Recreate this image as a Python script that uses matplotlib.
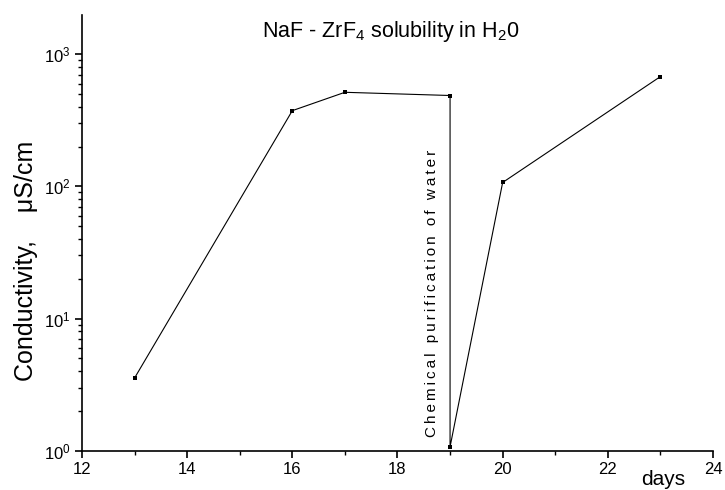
import matplotlib
matplotlib.use('Agg')
import matplotlib.pyplot as plt
from matplotlib.ticker import LogLocator, MultipleLocator, NullFormatter

plt.rcParams['font.family'] = ['Liberation Sans', 'DejaVu Sans']
plt.rcParams['mathtext.fontset'] = 'custom'
plt.rcParams['mathtext.rm'] = 'Liberation Sans'
plt.rcParams['mathtext.it'] = 'Liberation Sans:italic'

# data
days = [13, 16, 17, 19, 19, 20, 23]
conductivity = [3.55, 374, 515, 487, 1.07, 107, 677]

xticks = [12, 14, 16, 18, 20, 22, 24]

note = 'Chemical purification of water'

fig = plt.figure(figsize=(7.25, 4.9), dpi=100)
ax = fig.add_axes([0.1131, 0.0802, 0.8703, 0.8892])

ax.plot(days, conductivity, color='black', linewidth=0.8,
        marker='s', markersize=2.8, markerfacecolor='black', markeredgewidth=0)

ax.set_yscale('log')
ax.set_xlim(12, 24)
ax.set_ylim(1, 1980)
ax.set_xticks(xticks)
ax.xaxis.set_minor_locator(MultipleLocator(1))
ax.yaxis.set_major_locator(LogLocator(base=10, numticks=10))
ax.yaxis.set_minor_locator(LogLocator(base=10, subs=range(2, 10), numticks=20))
ax.yaxis.set_minor_formatter(NullFormatter())

ax.spines['top'].set_visible(False)
ax.spines['right'].set_visible(False)
for s in ['left', 'bottom']:
    ax.spines[s].set_linewidth(1.2)

ax.tick_params(which='major', direction='out', length=5, width=1.2, labelsize=12, pad=3)
ax.tick_params(which='minor', direction='out', length=3, width=1.0)

ax.set_ylabel('Conductivity,    \u03bcS/cm', fontsize=18)
ax.yaxis.set_label_coords(-0.07, 0.435)

fig.text(641 / 725, 0.003, 'days', fontsize=15, ha='left', va='bottom')
fig.text(0.539, 0.9245, 'NaF - ZrF$_4$ solubility in H$_2$0', fontsize=15.5,
         ha='center', va='baseline')
ax.text(18.656, 1.27, '\u2009'.join(note), fontsize=11,
        rotation=90, ha='center', va='bottom')

plt.savefig('out.png', dpi=100)
plt.close()
